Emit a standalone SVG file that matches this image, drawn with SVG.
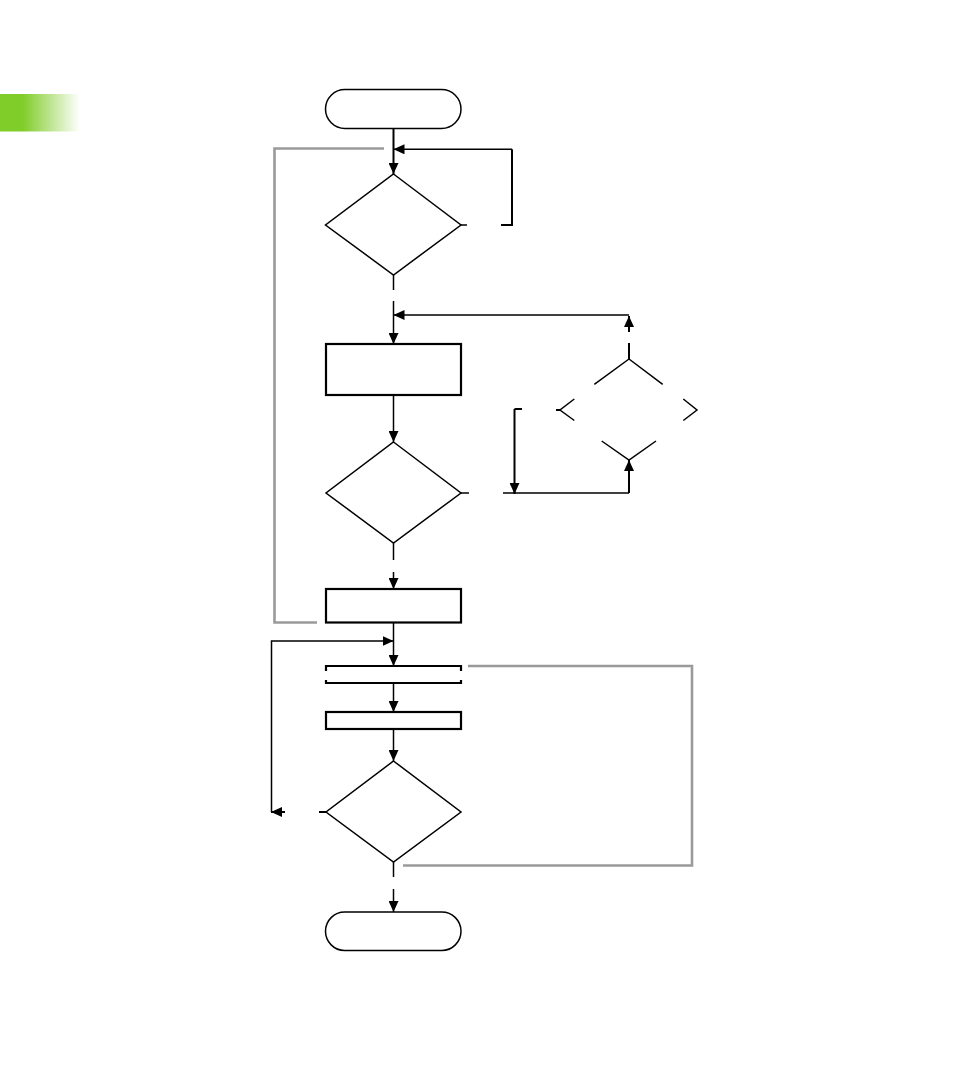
<svg xmlns="http://www.w3.org/2000/svg" width="954" height="1090" viewBox="0 0 954 1090">
<defs>
<linearGradient id="g" x1="0" y1="0" x2="1" y2="0">
<stop offset="0" stop-color="#80cc28"/>
<stop offset="0.28" stop-color="#80cc28"/>
<stop offset="1" stop-color="#80cc28" stop-opacity="0"/>
</linearGradient>
<marker id="ah" markerUnits="userSpaceOnUse" markerWidth="12" markerHeight="10" refX="11" refY="5" orient="auto">
<path d="M0,0 L11,5 L0,10 Z" fill="#000"/>
</marker>
</defs>
<style>
.n{fill:#fff;stroke:#000;stroke-width:1.5}
.t{fill:#fff;stroke:#000;stroke-width:2.2}
.c{fill:none;stroke:#000;stroke-width:1.5}
.k{fill:none;stroke:#000;stroke-width:2}
.a{marker-end:url(#ah)}
.gr{fill:none;stroke:#9a9a9a;stroke-width:2.6}
</style>
<rect x="0" y="94" width="80" height="37.5" fill="url(#g)"/>
<g id="connectors">
<path class="k a" d="M393.5,129 V174"/>
<path class="c" d="M461,225 H467"/>
<path class="k" d="M501,225 H512 V149.3"/>
<path class="c a" d="M512,149.3 H393.5"/>
<path class="c" d="M393.5,275 V290"/>
<path class="c a" d="M393.5,301 V344"/>
<path class="c a" d="M629,315 H393.5"/>
<path class="k a" d="M629,332 V316"/>
<path class="k" d="M629,343 V359"/>
<path class="c a" d="M393.5,395 V442"/>
<path class="c" d="M461,493 H469"/>
<path class="c" d="M503,493 H629"/>
<path class="k a" d="M629,493 V460"/>
<path class="k" d="M556,410 H560"/>
<path class="k" d="M522,409 H514.5"/>
<path class="k a" d="M514.5,409 V494"/>
<path class="c" d="M393.5,543 V560"/>
<path class="c a" d="M393.5,572 V589"/>
<path class="c a" d="M393.5,623 V666"/>
<path class="c a" d="M271.5,812 V641 H393.5"/>
<path class="k a" d="M285,812 H271"/>
<path class="k" d="M319,812 H326"/>
<path class="c a" d="M393.5,683 V712"/>
<path class="c a" d="M393.5,729 V761"/>
<path class="c" d="M393.5,862 V877"/>
<path class="c a" d="M393.5,889 V912"/>
<path class="gr" d="M384,148.5 H274.5 V622.5 H317"/>
<path class="gr" d="M468,666 H692 V865.5 H403"/>
</g>
<g id="start"><rect class="n" x="325.5" y="89.5" width="135.5" height="39" rx="19.5"/></g>
<g id="decision1"><path class="n" d="M393.5,174 L461,225 L393.5,275 L325.5,225 Z"/></g>
<g id="process1"><rect class="t" x="326" y="344" width="135" height="51"/></g>
<g id="decision2"><path class="c" d="M629,359 L594.3,384.3 M629,359 L662.7,384.3 M574.3,399 L560,410 L574.3,420.5 M683.3,399 L697,410 L683.3,420.5 M601.7,441 L629,460 L656,441"/></g>
<g id="decision3"><path class="n" d="M393.5,442 L461,493 L393.5,543 L326,493 Z"/></g>
<g id="process2"><rect class="t" x="326" y="589" width="135" height="33.5"/></g>
<g id="process3"><path class="t" d="M326,671 V666 H461 V671 M326,680 V683 H461 V680"/></g>
<g id="process4"><rect class="t" x="326" y="712" width="135" height="17"/></g>
<g id="decision4"><path class="n" d="M393.5,761 L461,812 L393.5,862 L326,812 Z"/></g>
<g id="end"><rect class="n" x="325.5" y="912" width="135.5" height="38.5" rx="19.25"/></g>
</svg>
